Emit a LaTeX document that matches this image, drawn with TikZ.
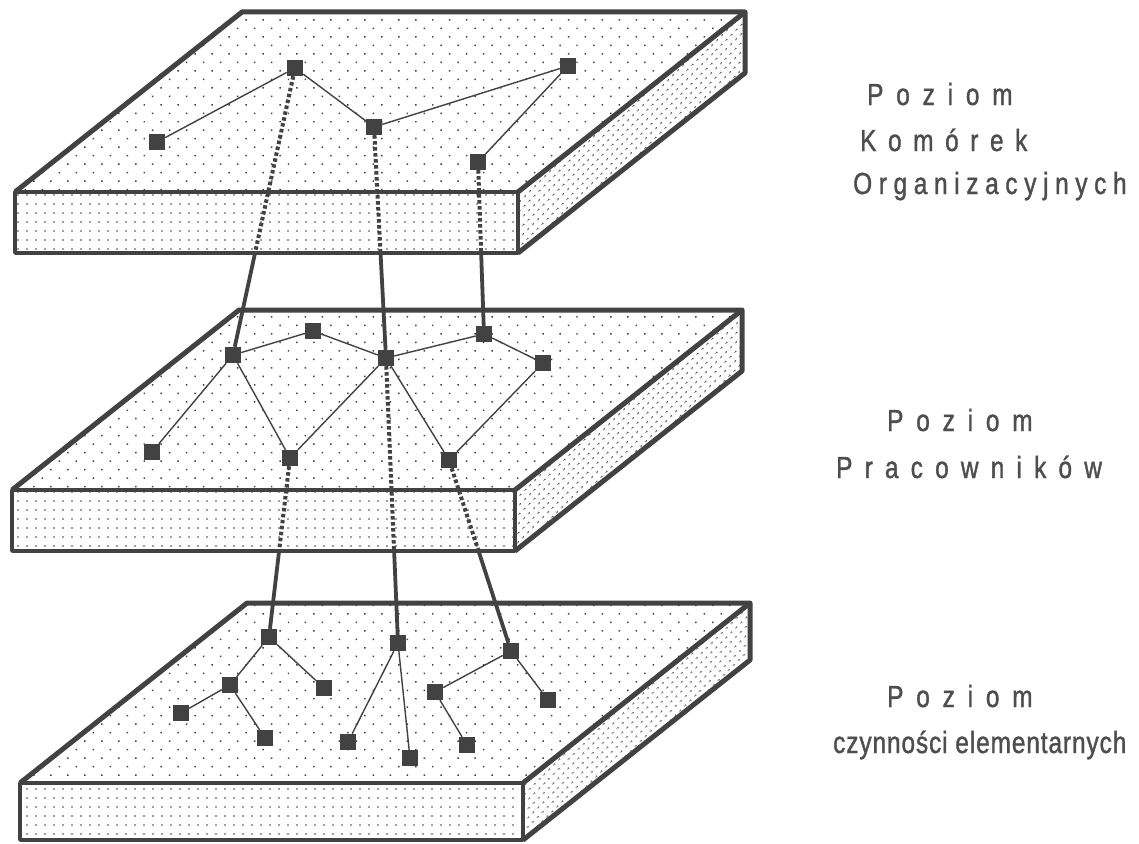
\documentclass[tikz,border=0pt]{standalone}
\usepackage{fontspec}
\setmainfont{Liberation Sans}[FakeStretch=0.8,FakeBold=1.2]
\usetikzlibrary{patterns.meta}

\definecolor{ink}{RGB}{66,66,66}
\definecolor{txt}{RGB}{78,78,78}

\tikzset{
  topface/.style={pattern={Dots[distance=12pt,angle=45,radius=1.05pt]},pattern color=ink},
  frontface/.style={pattern={Dots[distance=9pt,radius=0.95pt]},pattern color=ink},
  sideface/.style={pattern={Dots[distance=6.5pt,angle=45,radius=1.05pt]},pattern color=ink},
  rim/.style={draw=ink,line width=5pt,line join=round},
  frontrim/.style={draw=ink,line width=3.8pt,line join=round},
  unit/.style={rectangle,fill=ink,minimum size=16pt,inner sep=0pt},
  tie/.style={draw=ink,line width=1.4pt},
  hidden/.style={draw=ink,line width=4pt,dash pattern=on 3.5pt off 2.5pt},
  link/.style={draw=ink,line width=3.8pt},
  lvl/.style={anchor=base west,inner sep=0pt,text=txt,
    font=\fontsize{30.5}{30.5}\selectfont\addfontfeatures{LetterSpace=#1}},
}

% a slab: name, front-left top corner (x,y), thickness
\newcommand\slab[4]{%
  \begin{scope}[shift={(#2,#3)}]
    \coordinate (#1-fl)  at (0,0);
    \coordinate (#1-fr)  at (503,0);
    \coordinate (#1-bl)  at (227,-180);
    \coordinate (#1-br)  at (730,-180);
    \coordinate (#1-fbl) at (0,#4);
    \coordinate (#1-fbr) at (503,#4);
    \coordinate (#1-bbr) at (730,-180+#4);
  \end{scope}
  \path[topface]   (#1-fl) -- (#1-bl) -- (#1-br) -- (#1-fr) -- cycle;
  \path[frontface] (#1-fl) -- (#1-fr) -- (#1-fbr) -- (#1-fbl) -- cycle;
  \path[sideface]  (#1-fr) -- (#1-br) -- (#1-bbr) -- (#1-fbr) -- cycle;
  \draw[frontrim] (#1-fl) rectangle (#1-fbr);
  \draw[rim] (#1-fl) -- (#1-bl) -- (#1-br) -- (#1-bbr) -- (#1-fbr);
  \draw[rim] (#1-fr) -- (#1-br);
}

% a vertical link seen through a slab, then in the open below it
\newcommand\passlink[3]{%
  \path (intersection of #1--#3 and #2-fbl--#2-fbr) coordinate (#1-#3-x);
  \draw[hidden] (#1) -- (#1-#3-x);
  \draw[link] (#1-#3-x) -- (#3);
}

\begin{document}
\begin{tikzpicture}[x=1pt,y=-1pt]
  \fill[white] (0,0) rectangle (1139,843);
  \useasboundingbox (0,0) rectangle (1139,843);

  \slab{top}{15}{192}{61}
  \slab{mid}{12}{490}{61}
  \slab{bot}{20}{783}{57}

  % organisational units
  \node[unit] (T1) at (295,68) {};
  \node[unit] (T2) at (157,142) {};
  \node[unit] (T3) at (374,127) {};
  \node[unit] (T4) at (568,66) {};
  \node[unit] (T5) at (478,162) {};
  \draw[tie] (T2) -- (T1) (T1) -- (T3) (T3) -- (T4) (T4) -- (T5);

  % employees
  \node[unit] (M1) at (233,355) {};
  \node[unit] (M2) at (313,331) {};
  \node[unit] (M3) at (386,358) {};
  \node[unit] (M4) at (484,334) {};
  \node[unit] (M5) at (543,363) {};
  \node[unit] (M6) at (152,452) {};
  \node[unit] (M7) at (290,458) {};
  \node[unit] (M8) at (449,460) {};
  \draw[tie] (M1) -- (M2) (M2) -- (M3) (M3) -- (M4) (M4) -- (M5)
             (M1) -- (M6) (M1) -- (M7) (M7) -- (M3) (M3) -- (M8) (M8) -- (M5);

  % elementary activities
  \node[unit] (B1) at (269,637) {};
  \node[unit] (B2) at (230,685) {};
  \node[unit] (B3) at (324,688) {};
  \node[unit] (B4) at (181,713) {};
  \node[unit] (B5) at (265,738) {};
  \node[unit] (B6) at (398,643) {};
  \node[unit] (B7) at (348,742) {};
  \node[unit] (B8) at (410,758) {};
  \node[unit] (B9) at (511,651) {};
  \node[unit] (B10) at (435,692) {};
  \node[unit] (B11) at (467,745) {};
  \node[unit] (B12) at (548,700) {};
  \draw[tie] (B1) -- (B2) (B1) -- (B3) (B2) -- (B4) (B2) -- (B5)
             (B6) -- (B7) (B6) -- (B8)
             (B9) -- (B10) (B9) -- (B12) (B10) -- (B11);

  % links between levels
  \passlink{T1}{top}{M1}
  \passlink{T3}{top}{M3}
  \passlink{T5}{top}{M4}
  \passlink{M7}{mid}{B1}
  \passlink{M3}{mid}{B6}
  \passlink{M8}{mid}{B9}

  % level names
  \node[lvl=42] (L1a) at (867,105) {Poziom};
  \node[lvl=38] (L1b) at (860,151) {Komórek};
  \node[lvl=21.8] (L1c) at (853,194) {Organizacyjnych};
  \node[lvl=42] (L2a) at (887,431) {Poziom};
  \node[lvl=40] (L2b) at (836,478) {Pracowników};
  \node[lvl=42] (L3a) at (887,707) {Poziom};
  \node[lvl=3]  (L3b) at (833,753) {czynności elementarnych};
\end{tikzpicture}
\end{document}
